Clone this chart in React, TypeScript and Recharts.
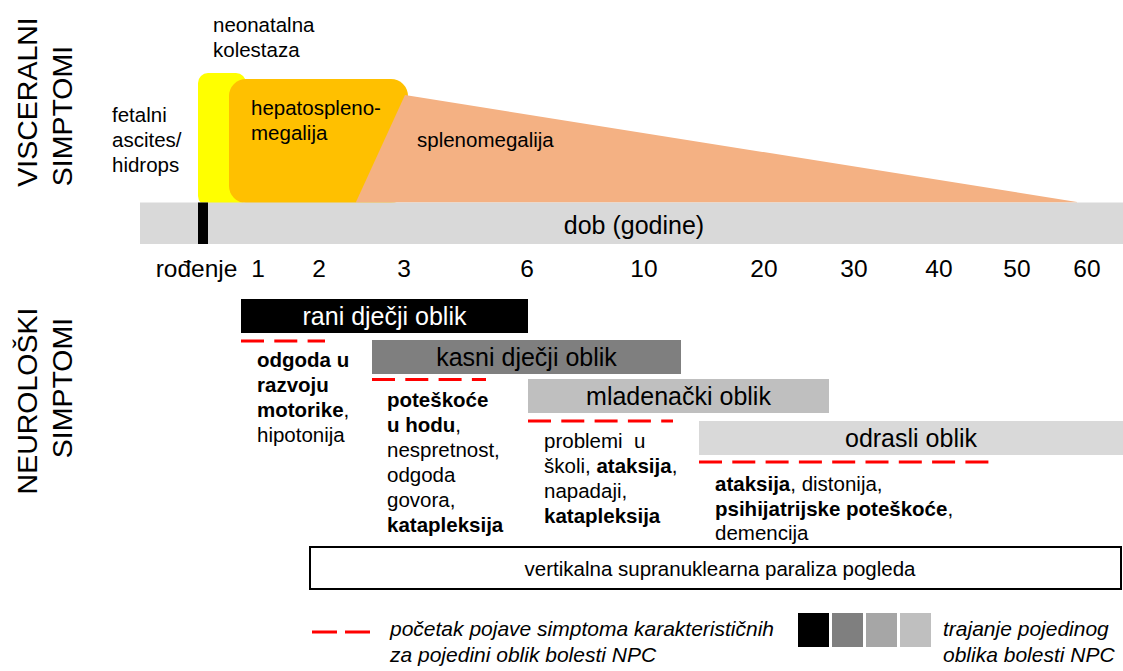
import React from 'react';
import { ComposedChart, XAxis, YAxis, Area, ReferenceArea, ReferenceLine, Customized } from 'recharts';

// ---- data ----
const ageLabels = ['rođenje', '1', '2', '3', '6', '10', '20', '30', '40', '50', '60'];
const agePos = [196.5, 258, 319, 404, 527, 644, 764, 854, 939, 1017, 1087];

const formNames = ['rani dječji oblik', 'kasni dječji oblik', 'mladenački oblik', 'odrasli oblik'];
const formStart = [241, 372, 528, 699];
const formEnd = [528, 681, 829, 1123];
const onsetEnd = [325, 486, 673, 990];

const splenoShape = [
  { x: 356, y: 202 },
  { x: 405, y: 95 },
  { x: 1077, y: 202 },
];

const legendShades = ['#000000', '#7F7F7F', '#A6A6A6', '#BFBFBF'];

// ---- styling ----
const W = 1123;
const H = 671;
const FONT = '"Liberation Sans", Arial, sans-serif';
const formFill = ['#000000', '#7F7F7F', '#BFBFBF', '#D9D9D9'];
const formText = ['#FFFFFF', '#000000', '#000000', '#000000'];
const formTop = [299, 340, 379, 421];
const formH = 34;
const onsetY = [341, 379.5, 421, 462];

const rounded = (r: number, fill: string) => (p: any) => (
  <rect x={p.x} y={p.y} width={p.width} height={p.height} rx={r} ry={r} fill={fill} />
);

const B = ({ children }: any) => <tspan fontWeight="bold">{children}</tspan>;

const Texts = () => {
  const body = { fontFamily: FONT, fontSize: 20.5, fill: '#000' } as any;
  return (
    <g>
      {/* side titles */}
      <text transform="translate(37,102) rotate(-90)" textAnchor="middle" fontFamily={FONT} fontSize={28.5} fill="#000">VISCERALNI</text>
      <text transform="translate(72,116) rotate(-90)" textAnchor="middle" fontFamily={FONT} fontSize={28.5} fill="#000">SIMPTOMI</text>
      <text transform="translate(37,401) rotate(-90)" textAnchor="middle" fontFamily={FONT} fontSize={28.5} fill="#000">NEUROLOŠKI</text>
      <text transform="translate(72,388) rotate(-90)" textAnchor="middle" fontFamily={FONT} fontSize={28.5} fill="#000">SIMPTOMI</text>

      {/* visceral labels */}
      <text {...body} x={213} y={32}>neonatalna</text>
      <text {...body} x={213} y={57}>kolestaza</text>
      <text {...body} x={112} y={122}>fetalni</text>
      <text {...body} x={112} y={147}>ascites/</text>
      <text {...body} x={112} y={172}>hidrops</text>
      <text {...body} x={251} y={115}>hepatospleno-</text>
      <text {...body} x={251} y={140}>megalija</text>
      <text {...body} x={417} y={147}>splenomegalija</text>

      {/* age axis */}
      <text x={634} y={234} textAnchor="middle" fontFamily={FONT} fontSize={25} fill="#000">dob (godine)</text>
      {ageLabels.map((l, i) => (
        <text key={l} x={agePos[i]} y={277} textAnchor="middle" fontFamily={FONT} fontSize={24.5} fill="#000">{l}</text>
      ))}

      {/* form labels */}
      {formNames.map((n, i) => (
        <text key={n} x={(formStart[i] + formEnd[i]) / 2} y={formTop[i] + 26} textAnchor="middle" fontFamily={FONT} fontSize={25} fill={formText[i]}>{n}</text>
      ))}

      {/* symptoms */}
      <text {...body} x={257} y={367}><B>odgoda u</B></text>
      <text {...body} x={257} y={392}><B>razvoju</B></text>
      <text {...body} x={257} y={417}><B>motorike</B>,</text>
      <text {...body} x={257} y={442}>hipotonija</text>

      <text {...body} x={387} y={407}><B>poteškoće</B></text>
      <text {...body} x={387} y={432}><B>u hodu</B>,</text>
      <text {...body} x={387} y={457}>nespretnost,</text>
      <text {...body} x={387} y={482}>odgoda</text>
      <text {...body} x={387} y={507}>govora,</text>
      <text {...body} x={387} y={532}><B>katapleksija</B></text>

      <text {...body} x={544} y={448}>{'problemi\u00A0 u'}</text>
      <text {...body} x={544} y={473}>školi, <B>ataksija</B>,</text>
      <text {...body} x={544} y={498}>napadaji,</text>
      <text {...body} x={544} y={523}><B>katapleksija</B></text>

      <text {...body} x={715} y={491}><B>ataksija</B>, distonija,</text>
      <text {...body} x={715} y={516}><B>psihijatrijske poteškoće</B>,</text>
      <text {...body} x={715} y={540}>demencija</text>

      <text {...body} x={720} y={576} textAnchor="middle">vertikalna supranuklearna paraliza pogleda</text>

      {/* legend */}
      <text x={390} y={636} fontFamily={FONT} fontSize={21} fontStyle="italic" fill="#000">početak pojave simptoma karakterističnih</text>
      <text x={390} y={662} fontFamily={FONT} fontSize={21} fontStyle="italic" fill="#000">za pojedini oblik bolesti NPC</text>
      <text x={943} y={636} fontFamily={FONT} fontSize={21} fontStyle="italic" fill="#000">trajanje pojedinog</text>
      <text x={943} y={662} fontFamily={FONT} fontSize={21} fontStyle="italic" fill="#000">oblika bolesti NPC</text>
    </g>
  );
};

export default function App() {
  return (
    <div style={{ position: 'fixed', left: 0, top: 0, width: W, height: H, background: '#fff' }}>
      <div style={{ position: 'absolute', left: 0, top: 0 }}>
        <ComposedChart width={W} height={H} margin={{ top: 0, right: 0, bottom: 0, left: 0 }}>
          <XAxis type="number" dataKey="x" domain={[0, W]} allowDataOverflow hide />
          <YAxis type="number" domain={[0, H]} reversed allowDataOverflow hide />

          {/* visceral shapes */}
          <ReferenceArea x1={198} x2={246} y1={73} y2={206} shape={rounded(10, '#FFFF00')} ifOverflow="visible" />
          <ReferenceArea x1={229} x2={408} y1={79} y2={203} shape={rounded(17, '#FFC000')} ifOverflow="visible" />
          <Area
            data={splenoShape}
            dataKey="y"
            type="linear"
            baseValue={202.5}
            fill="#F4B183"
            fillOpacity={1}
            stroke="none"
            dot={false}
            activeDot={false}
            isAnimationActive={false}
          />

          {/* age bar */}
          <ReferenceArea x1={140} x2={W} y1={202.5} y2={244} fill="#D9D9D9" fillOpacity={1} stroke="none" ifOverflow="visible" />
          <ReferenceArea x1={198} x2={208} y1={202.5} y2={244} fill="#000000" fillOpacity={1} stroke="none" ifOverflow="visible" />

          {/* forms */}
          {formNames.map((n, i) => (
            <ReferenceArea
              key={n}
              x1={formStart[i]}
              x2={formEnd[i]}
              y1={formTop[i]}
              y2={formTop[i] + formH}
              fill={formFill[i]}
              fillOpacity={1}
              stroke="none"
              ifOverflow="visible"
            />
          ))}
          {formNames.map((n, i) => (
            <ReferenceLine
              key={'d' + n}
              segment={[{ x: formStart[i], y: onsetY[i] }, { x: onsetEnd[i], y: onsetY[i] }]}
              stroke="#FF0000"
              strokeWidth={3}
              strokeDasharray="23 10.3"
              ifOverflow="visible"
            />
          ))}

          {/* vertical supranuclear gaze palsy box */}
          <ReferenceArea x1={310} x2={1121} y1={547} y2={589} fill="#FFFFFF" fillOpacity={1} stroke="#000" strokeWidth={2} ifOverflow="visible" />

          {/* legend */}
          <ReferenceLine segment={[{ x: 312, y: 632 }, { x: 370, y: 632 }]} stroke="#FF0000" strokeWidth={3} strokeDasharray="25 8" ifOverflow="visible" />
          {legendShades.map((c, i) => (
            <ReferenceArea
              key={c}
              x1={798 + i * 34}
              x2={829 + i * 34}
              y1={613}
              y2={647}
              fill={c}
              fillOpacity={1}
              stroke="none"
              ifOverflow="visible"
            />
          ))}
        </ComposedChart>
      </div>
      <div style={{ position: 'absolute', left: 0, top: 0, pointerEvents: 'none' }}>
        <ComposedChart width={W} height={H} margin={{ top: 0, right: 0, bottom: 0, left: 0 }}>
          <XAxis type="number" dataKey="x" domain={[0, W]} allowDataOverflow hide />
          <YAxis type="number" domain={[0, H]} reversed allowDataOverflow hide />
          <Customized component={<Texts />} />
        </ComposedChart>
      </div>
    </div>
  );
}
